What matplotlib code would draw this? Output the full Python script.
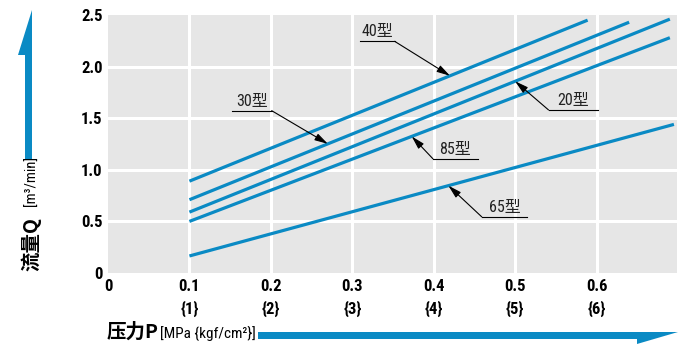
import matplotlib
matplotlib.use("Agg")
import matplotlib.pyplot as plt
import numpy as np
from matplotlib.patches import Polygon

# Flow rate vs pressure per model
models = ["40型", "30型", "20型", "85型", "65型"]
p_start = [0.1, 0.1, 0.1, 0.1, 0.1]
p_end = [0.589, 0.640, 0.690, 0.690, 0.695]
q_start = [0.89, 0.71, 0.59, 0.50, 0.165]
q_end = [2.45, 2.43, 2.46, 2.28, 1.44]

x_ticks = [0, 0.1, 0.2, 0.3, 0.4, 0.5, 0.6]
x_tick_labels = ["0", "0.1\n{1}", "0.2\n{2}", "0.3\n{3}", "0.4\n{4}", "0.5\n{5}", "0.6\n{6}"]
y_ticks = [0, 0.5, 1.0, 1.5, 2.0, 2.5]
y_tick_labels = ["0", "0.5", "1.0", "1.5", "2.0", "2.5"]

# label placement: (underline x0, x1, y), arrow tip p, side the leader leaves from
label_pos = {
    "40型": (0.309, 0.352, 2.245, 0.42, "right"),
    "30型": (0.152, 0.201, 1.573, 0.270, "right"),
    "20型": (0.541, 0.602, 1.580, 0.500, "left"),
    "85型": (0.399, 0.454, 1.107, 0.373, "left"),
    "65型": (0.459, 0.515, 0.544, 0.418, "left"),
}

BLUE = "#0a8ac4"
FONT = ["Roboto Condensed", "Noto Sans CJK SC"]
CJK = ["Noto Sans CJK SC", "DejaVu Sans"]
plt.rcParams["font.family"] = FONT

W, H = 678, 344
fig = plt.figure(figsize=(W / 100, H / 100), dpi=100)
ax = fig.add_axes([108 / W, (H - 273) / H, 570 / W, 258 / H])
ax.set_facecolor("#e6e6e6")
ax.set_xlim(0, 0.7)
ax.set_ylim(0, 2.5)
for s in ax.spines.values():
    s.set_visible(False)

for v in x_ticks[1:] + [0.7]:
    ax.axvline(v, color="white", lw=2.2, zorder=1)
for v in y_ticks[1:-1]:
    ax.axhline(v, color="white", lw=2.2, zorder=1)

lines = {}
for m, x0, x1, y0, y1 in zip(models, p_start, p_end, q_start, q_end):
    ax.plot([x0, x1], [y0, y1], color=BLUE, lw=2.3, solid_capstyle="butt", zorder=3)
    lines[m] = ([x0, x1], [y0, y1])

for m in models:
    ux0, ux1, uy, tip_x, side = label_pos[m]
    xs, ys = lines[m]
    tip_y = np.interp(tip_x, xs, ys)
    ax.plot([ux0, ux1], [uy, uy], color="black", lw=0.8, zorder=4)
    start_x = ux1 if side == "right" else ux0
    ax.annotate("", xy=(tip_x, tip_y), xytext=(start_x, uy),
                arrowprops=dict(arrowstyle="-|>,head_length=0.8,head_width=0.22",
                                color="black", lw=0.8, shrinkA=0, shrinkB=0),
                zorder=4)
    ax.text((ux0 + ux1) / 2, uy + 0.02, m, ha="center", va="bottom",
            fontsize=11.5, color="#222222", zorder=4)

ax.set_xticks(x_ticks)
ax.set_xticklabels(x_tick_labels, fontsize=12, fontweight="bold", linespacing=1.55)
ax.set_yticks(y_ticks)
ax.set_yticklabels(y_tick_labels, fontsize=12, fontweight="bold")
ax.tick_params(length=0, pad=4)
for lbl in ax.get_xticklabels():
    lbl.set_verticalalignment("top")

# y axis label and arrow
fig.text(31 / W, (H - 271) / H, "流量Q", rotation=90, ha="center", va="bottom",
         fontsize=14, fontweight="bold", family=CJK)
fig.text(32 / W, (H - 206) / H, "[m³/min]", rotation=90, ha="center", va="bottom",
         fontsize=10.5)
up = [(25, 160), (25, 55), (18, 55), (32, 10), (32, 160)]
fig.patches.append(Polygon([(x / W, (H - y) / H) for x, y in up], closed=True,
                           transform=fig.transFigure, color=BLUE, lw=0))

# x axis label and arrow
fig.text(107 / W, (H - 332) / H, "压力P", ha="left", va="center",
         fontsize=14, fontweight="bold", family=CJK)
fig.text(160 / W, (H - 333) / H, "[MPa {kgf/cm²}]", ha="left", va="center",
         fontsize=11)
right = [(258, 332), (678, 332), (637, 344), (637, 339), (258, 339)]
fig.patches.append(Polygon([(x / W, (H - y) / H) for x, y in right], closed=True,
                           transform=fig.transFigure, color=BLUE, lw=0))

fig.savefig("out.png", dpi=100)
